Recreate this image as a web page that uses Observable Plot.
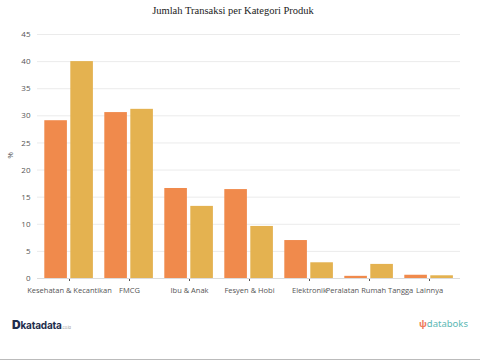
<!DOCTYPE html>
<html>
<head>
<meta charset="utf-8">
<script src="https://cdn.jsdelivr.net/npm/d3@7"></script>
<script src="https://cdn.jsdelivr.net/npm/@observablehq/plot@0.6"></script>
<style>
  html, body { margin: 0; padding: 0; background: #fff; }
  #wrap { position: relative; width: 480px; height: 360px; overflow: hidden; }
  #title { position: absolute; top: 5px; left: 0; width: 466px; text-align: center;
           font-family: "Liberation Serif", serif; font-size: 10.5px; color: #222; }
  #chart { position: absolute; top: 0; left: 0; }
  #ylab { position: absolute; left: 6px; top: 150px; transform: rotate(-90deg);
          font-family: "Open Sans", sans-serif; font-size: 8px; color: #555; }
  #logoL { position: absolute; left: 12px; top: 317px; font-family: "Inter", "Noto Sans", sans-serif;
           font-size: 10px; font-weight: 700; color: #1f2d4d; letter-spacing: -0.2px; }
  #logoL small { font-size: 4px; font-weight: 400; color: #999; }
  #logoR { position: absolute; right: 12px; top: 317px; font-family: "Noto Sans", sans-serif;
           font-size: 9.5px; color: #5bb8b4; }
  #logoR b { color: #ef7b5a; font-weight: 700; }
  #bottomLine { position: absolute; left: 0; top: 359px; width: 480px; height: 1px; background: #bbb; }
</style>
</head>
<body>
<div id="wrap">
  <div id="chart"></div>
  <div id="title">Jumlah Transaksi per Kategori Produk</div>
  <div id="ylab">%</div>
  <div id="logoL"><span style="font-size:12px;font-weight:900">D</span>katadata<small>.co.id</small></div>
  <div id="logoR"><b>ψ</b>databoks</div>
  <div id="bottomLine"></div>
</div>
<script>
const categories = ["Kesehatan & Kecantikan", "FMCG", "Ibu & Anak", "Fesyen & Hobi", "Elektronik", "Peralatan Rumah Tangga", "Lainnya"];
const seriesA = [29.1, 30.6, 16.6, 16.4, 7.0, 0.4, 0.6];
const seriesB = [40.0, 31.2, 13.3, 9.6, 2.9, 2.6, 0.5];
const yTicks = [0, 5, 10, 15, 20, 25, 30, 35, 40, 45];

const dataA = categories.map((c, i) => ({cat: c, value: seriesA[i]}));
const dataB = categories.map((c, i) => ({cat: c, value: seriesB[i]}));

const chart = Plot.plot({
  width: 480,
  height: 300,
  marginTop: 34,
  marginBottom: 22,
  marginLeft: 37,
  marginRight: 20,
  style: {fontFamily: "'Open Sans', sans-serif", fontSize: "7.5px", color: "#555", background: "transparent"},
  x: {domain: categories, padding: 0, label: null, tickSize: 3},
  y: {domain: [0, 45], ticks: yTicks, label: null, tickSize: 0, tickPadding: 7},
  marks: [
    Plot.gridY(yTicks, {stroke: "#ebebeb", strokeOpacity: 1}),
    Plot.barY(dataA, {x: "cat", y: "value", fill: "#F08A4C", insetLeft: 5.3, insetRight: 32.1}),
    Plot.barY(dataB, {x: "cat", y: "value", fill: "#E4B250", insetLeft: 31.3, insetRight: 6.1}),
    Plot.ruleY([0], {stroke: "#dcdcdc"})
  ]
});
chart.querySelectorAll("g[aria-label='y-axis tick label'] text, g[aria-label='y-axis'] text").forEach(t => t.style.fontSize = "8px");
document.getElementById("chart").appendChild(chart);
</script>
</body>
</html>
